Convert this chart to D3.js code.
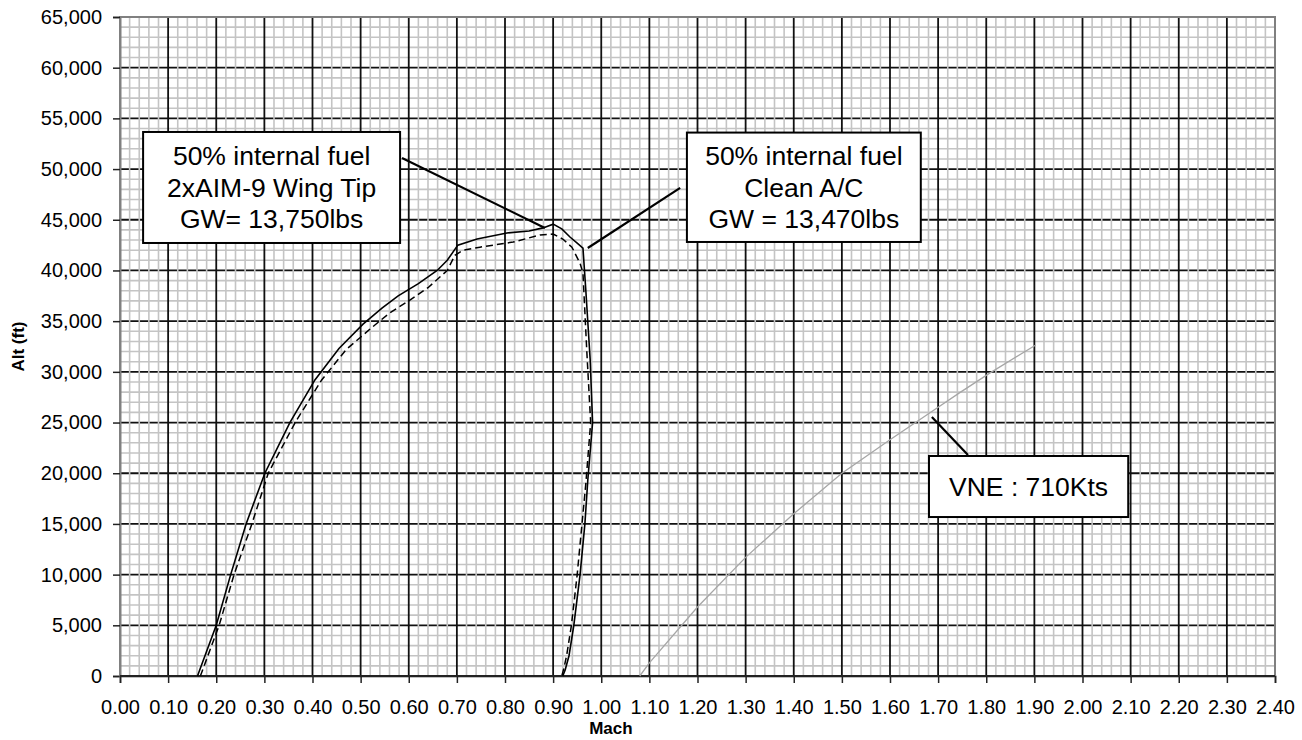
<!DOCTYPE html>
<html>
<head>
<meta charset="utf-8">
<script src="https://cdn.jsdelivr.net/npm/d3@7"></script>
<style>
  html, body { margin: 0; padding: 0; background: #fff; }
  svg { display: block; font-family: Arial, "Liberation Sans", sans-serif; }
</style>
</head>
<body>
<svg id="chart" width="1302" height="740"></svg>
<script>
// ---- data ----
const xTicks = d3.range(0, 24.001, 1).map(d => +(d / 10).toFixed(2));
const yTicks = d3.range(0, 65001, 5000);

// solid curve (Clean A/C)
const cleanMach = [0.161, 0.200, 0.230, 0.262, 0.301, 0.353, 0.405, 0.455, 0.505, 0.545, 0.578, 0.620, 0.659, 0.680, 0.702, 0.742, 0.804, 0.850, 0.879, 0.900, 0.918, 0.935, 0.950, 0.962, 0.968, 0.977, 0.982, 0.972, 0.966, 0.956, 0.943, 0.933, 0.925, 0.920];
const cleanAlt  = [0, 5000, 10000, 15000, 20000, 25000, 29200, 32300, 34700, 36300, 37500, 38700, 40000, 41000, 42500, 43100, 43700, 43900, 44200, 44570, 44100, 43300, 42700, 42200, 38000, 31200, 25000, 19300, 15000, 10000, 5000, 2000, 600, 0];

// dashed curve (2xAIM-9 Wing Tip)
const aimMach = [0.167, 0.206, 0.237, 0.274, 0.308, 0.364, 0.419, 0.470, 0.524, 0.560, 0.600, 0.640, 0.680, 0.696, 0.713, 0.748, 0.817, 0.873, 0.900, 0.920, 0.939, 0.956, 0.962, 0.970, 0.978, 0.968, 0.960, 0.950, 0.938, 0.928, 0.922, 0.918];
const aimAlt  = [0, 5000, 10000, 15000, 20000, 25000, 29200, 32200, 34400, 35800, 37000, 38300, 40000, 41500, 42000, 42300, 42800, 43500, 43600, 43100, 42300, 40700, 39750, 32000, 25000, 19000, 15000, 10000, 5000, 2000, 700, 0];

// VNE : 710Kts
const vneMach = [1.08, 1.10, 1.20, 1.30, 1.40, 1.50, 1.60, 1.70, 1.745, 1.808, 1.903];
const vneAlt  = [0, 1300, 6800, 11700, 16000, 20000, 23300, 26500, 27950, 29900, 32650];

// annotations
const labelLeft  = ["50% internal fuel", "2xAIM-9 Wing Tip", "GW= 13,750lbs"];
const labelRight = ["50% internal fuel", "Clean A/C", "GW = 13,470lbs"];
const labelVne   = ["VNE : 710Kts"];

// ---- chart ----
const svg = d3.select("#chart");
const x = d3.scaleLinear().domain([0, 2.4]).range([120, 1275]);
const y = d3.scaleLinear().domain([0, 65000]).range([676, 17]);

const grid = svg.append("g");
const xMinor = d3.range(0, 120.001, 1).map(d => d * 0.02).filter((d, i) => i % 5 !== 0);
const yMinor = d3.range(0, 65001, 1000).filter(d => d % 5000 !== 0);

grid.selectAll("line.hmin").data(yMinor).join("line")
  .attr("x1", x(0)).attr("x2", x(2.4))
  .attr("y1", d => y(d)).attr("y2", d => y(d))
  .attr("stroke", "#c4c4c4").attr("stroke-width", 1.6);
grid.selectAll("line.hmaj").data(yTicks.slice(1, -1)).join("line")
  .attr("x1", x(0)).attr("x2", x(2.4))
  .attr("y1", d => y(d)).attr("y2", d => y(d))
  .attr("stroke", "#111").attr("stroke-width", 1.8);
grid.selectAll("line.vmin").data(xMinor).join("line")
  .attr("x1", d => x(d)).attr("x2", d => x(d))
  .attr("y1", y(0)).attr("y2", y(65000))
  .attr("stroke", "#c4c4c4").attr("stroke-width", 1.6);
grid.selectAll("line.vmaj").data(xTicks.slice(1, -1)).join("line")
  .attr("x1", d => x(d)).attr("x2", d => x(d))
  .attr("y1", y(0)).attr("y2", y(65000))
  .attr("stroke", "#111").attr("stroke-width", 1.8);

svg.append("rect")
  .attr("x", x(0)).attr("y", y(65000))
  .attr("width", x(2.4) - x(0)).attr("height", y(0) - y(65000))
  .attr("fill", "none").attr("stroke", "#808080").attr("stroke-width", 2);

const yAxis = svg.append("g").attr("transform", `translate(${x(0)},0)`)
  .call(d3.axisLeft(y).tickValues(yTicks).tickFormat(d3.format(",")).tickSize(7).tickPadding(11));
const xAxis = svg.append("g").attr("transform", `translate(0,${y(0)})`)
  .call(d3.axisBottom(x).tickValues(xTicks).tickFormat(d3.format(".2f")).tickSize(7).tickPadding(17));
[yAxis, xAxis].forEach(a => {
  a.select(".domain").attr("stroke", "#808080").attr("stroke-width", 2);
  a.selectAll(".tick line").attr("stroke", "#222").attr("stroke-width", 1.5);
  a.selectAll(".tick text").attr("fill", "#000").style("font-size", "20px")
    .style("font-family", "Arial, 'Liberation Sans', sans-serif");
});
svg.append("line").attr("x1", x(0)).attr("x2", x(2.4)).attr("y1", y(0)).attr("y2", y(0))
  .attr("stroke", "#222").attr("stroke-width", 2);

// axis titles
svg.append("text").attr("x", x(1.02)).attr("y", 734)
  .attr("text-anchor", "middle").style("font-weight", "bold").style("font-size", "17px").text("Mach");
svg.append("text").attr("transform", `translate(24,${(y(0) + y(65000)) / 2}) rotate(-90)`)
  .attr("text-anchor", "middle").style("font-weight", "bold").style("font-size", "17px").text("Alt (ft)");

// series
const line = d3.line().x(d => x(d[0])).y(d => y(d[1]));
svg.append("path").datum(vneMach.map((m, i) => [m, vneAlt[i]]))
  .attr("d", line).attr("fill", "none").attr("stroke", "#a6a6a6").attr("stroke-width", 1.3);
svg.append("path").datum(aimMach.map((m, i) => [m, aimAlt[i]]))
  .attr("d", line).attr("fill", "none").attr("stroke", "#000").attr("stroke-width", 1.5)
  .attr("stroke-dasharray", "7,4");
svg.append("path").datum(cleanMach.map((m, i) => [m, cleanAlt[i]]))
  .attr("d", line).attr("fill", "none").attr("stroke", "#000").attr("stroke-width", 1.6);

function callout(lines, box, from, to, fontSize, lineGap) {
  svg.append("line")
    .attr("x1", x(from[0])).attr("y1", y(from[1]))
    .attr("x2", x(to[0])).attr("y2", y(to[1]))
    .attr("stroke", "#000").attr("stroke-width", 2.2);
  const bx = x(box[0]), bx2 = x(box[1]), by = y(box[2]), by2 = y(box[3]);
  svg.append("rect").attr("x", bx).attr("y", by).attr("width", bx2 - bx).attr("height", by2 - by)
    .attr("fill", "#fff").attr("stroke", "#000").attr("stroke-width", 2);
  const cy = (by + by2) / 2;
  const n = lines.length;
  lines.forEach((t, i) => {
    svg.append("text").attr("x", (bx + bx2) / 2)
      .attr("y", cy + (i - (n - 1) / 2) * lineGap)
      .attr("dy", "0.35em")
      .attr("text-anchor", "middle").style("font-size", fontSize + "px").text(t);
  });
}
callout(labelLeft,  [0.048, 0.582, 53660, 42710], [0.586, 51100], [0.883, 44190], 26.5, 31.5);
callout(labelRight, [1.178, 1.664, 53600, 42810], [1.164, 48140], [0.972, 42220], 26.5, 31.5);
callout(labelVne,   [1.681, 2.095, 21700, 15680], [1.762, 21800], [1.687, 25550], 26.5, 31.5);
</script>
</body>
</html>
